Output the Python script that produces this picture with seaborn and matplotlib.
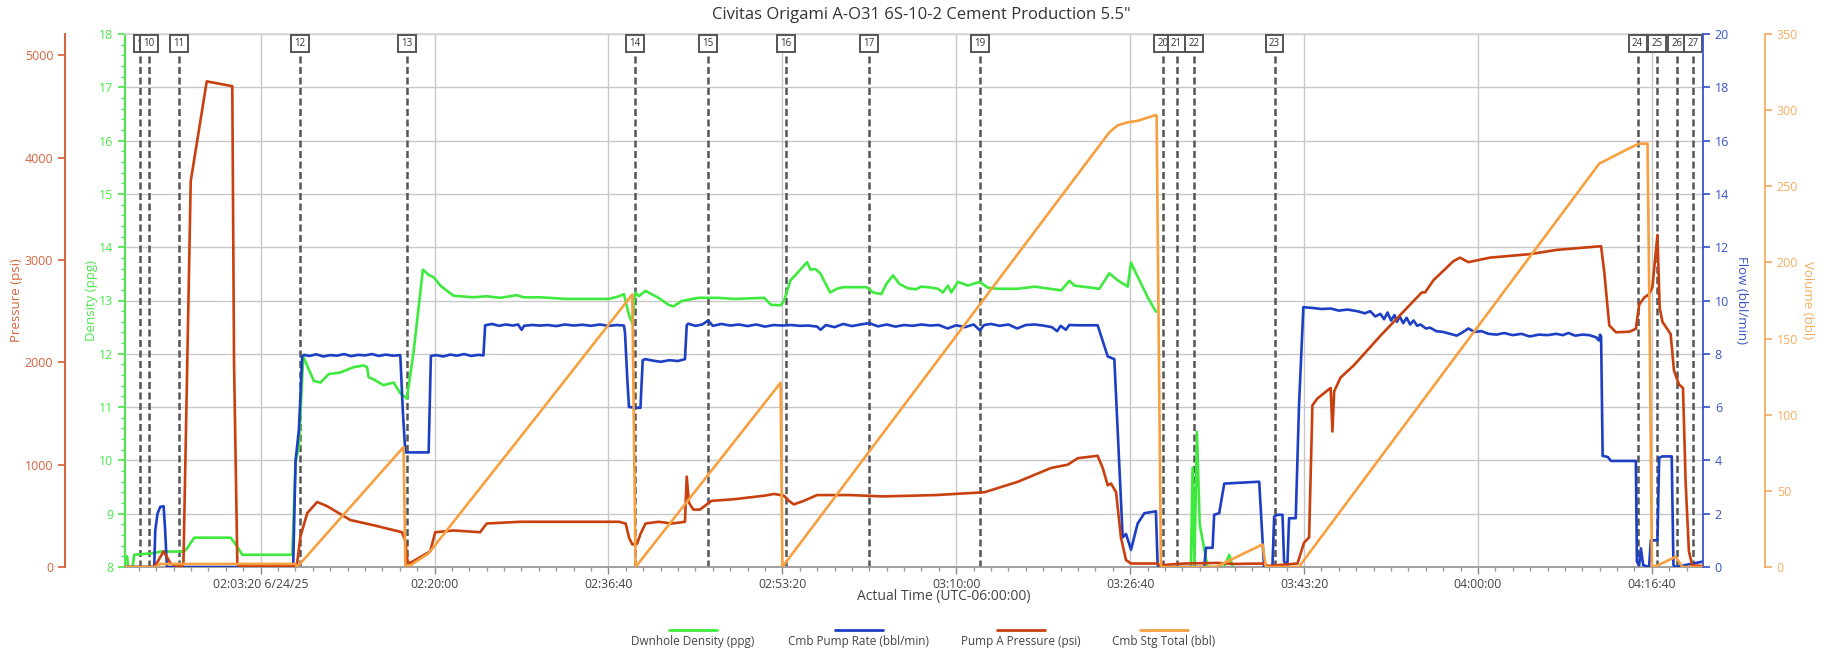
import pandas as pd
import seaborn as sns
import matplotlib.pyplot as plt
from matplotlib.lines import Line2D
from matplotlib.ticker import FuncFormatter, MultipleLocator

# all times are seconds after 02:00:00 on 6/24/25
dens_t = [-580, -568, -562, -536, -527, -412, -374, -240, -221, -182, 28, 57, 95, 382, 401, 420, 445,
          506, 544, 592, 659, 735, 793, 812, 821, 850, 907, 927, 965, 1003, 1041, 1080, 1133, 1166,
          1194, 1233, 1309, 1424, 1500, 1577, 1672, 1711, 1806, 1957, 2204, 2261, 2289, 2318, 2337,
          2350, 2356, 2375, 2413, 2488, 2545, 2574, 2621, 2716, 2830, 2925, 3096, 3134, 3191, 3209,
          3247, 3304, 3342, 3361, 3390, 3418, 3475, 3513, 3551, 3684, 3722, 3769, 3798, 3836, 3874,
          3921, 3969, 3997, 4037, 4095, 4123, 4152, 4171, 4210, 4267, 4334, 4382, 4439, 4554, 4650,
          4803, 4851, 4879, 5023, 5080, 5128, 5186, 5205, 5234, 5301, 5348]
dens_v = [8.2, 8.2, 8.0, 8.0, 8.23, 8.26, 8.29, 8.29, 8.36, 8.55, 8.55, 8.42, 8.23, 8.23, 10.0, 10.25, 11.95,
          11.49, 11.46, 11.62, 11.65, 11.75, 11.78, 11.75, 11.56, 11.52, 11.41, 11.43, 11.46, 11.26, 11.16, 12.05, 13.58, 13.48,
          13.44, 13.28, 13.09, 13.06, 13.08, 13.05, 13.10, 13.06, 13.06, 13.03, 13.03, 13.08, 13.12, 12.73, 12.57,
          13.07, 13.15, 13.08, 13.18, 13.05, 12.92, 12.89, 12.99, 13.05, 13.05, 13.03, 13.05, 12.92, 12.91, 12.99,
          13.38, 13.58, 13.72, 13.58, 13.59, 13.51, 13.15, 13.22, 13.25, 13.25, 13.15, 13.12, 13.31, 13.47, 13.31,
          13.23, 13.21, 13.26, 13.25, 13.22, 13.15, 13.28, 13.15, 13.35, 13.28, 13.35, 13.24, 13.22, 13.22, 13.26,
          13.19, 13.37, 13.28, 13.22, 13.51, 13.38, 13.26, 13.71, 13.51, 13.06, 12.79]
dens2_t = [5549, 5559, 5569, 5584, 5600, 5645, 5741, 5770, 5789]
dens2_v = [8.0, 9.86, 8.0, 10.54, 8.8, 8.0, 8.0, 8.23, 8.0]

flow_t = [-580, -412, -406, -393, -377, -358, -349, -339, 387, 401, 420, 439, 449,
          480, 520, 560, 600, 640, 680, 720, 760, 800, 840, 880, 920, 960, 1003, 1018, 1032, 1166, 1179,
          1210, 1250, 1290, 1330, 1370, 1410, 1450, 1481, 1491,
          1530, 1570, 1610, 1650, 1680, 1701, 1715, 1760, 1806, 1850, 1900, 1950, 2000, 2050, 2100, 2150,
          2200, 2250, 2289, 2295, 2308, 2318, 2384, 2397, 2413, 2450, 2500, 2550, 2600, 2640, 2650, 2659,
          2700, 2740, 2773, 2800, 2850, 2900, 2950, 3000, 3050, 3100, 3150, 3200, 3250, 3300, 3350, 3400,
          3420, 3450, 3500, 3550, 3600, 3650, 3700, 3750, 3800, 3850, 3900, 3950, 4000, 4050, 4100, 4150,
          4200, 4250, 4300, 4336, 4360, 4400, 4450, 4500, 4550, 4600, 4650, 4700, 4750, 4780, 4800, 4830,
          4850, 4900, 4950, 5013, 5071, 5109, 5128, 5157, 5176, 5205, 5243, 5282, 5348, 5358, 5368, 5626,
          5636, 5674, 5683, 5712, 5741, 5942, 5970, 6018, 6028, 6047, 6076, 6085, 6104, 6114, 6152, 6171,
          6196, 6250, 6300, 6353, 6400, 6450, 6505, 6550, 6580, 6610, 6639, 6660, 6680, 6700, 6720, 6734,
          6750, 6770, 6790, 6810, 6830, 6850, 6870, 6900, 6925, 6960, 7000, 7040, 7078, 7110, 7145, 7180,
          7220, 7260, 7307, 7350, 7400, 7450, 7497, 7550, 7600, 7650, 7688, 7720, 7760, 7800, 7840, 7879,
          7895, 7902, 7908, 7917, 7946, 7965, 8108, 8114, 8127, 8137, 8150, 8184, 8194, 8232, 8242, 8261,
          8314, 8324, 8337, 8490]
flow_v = [0, 0, 1.37, 2.0, 2.26, 2.28, 1.37, 0, 0, 4.0, 5.15, 7.9, 7.96,
          7.92, 7.98, 7.9, 7.95, 7.93, 7.99, 7.91, 7.96, 7.94, 7.99, 7.92, 7.97, 7.93, 7.95, 5.8, 4.3, 4.3, 7.92,
          7.95, 7.9, 7.97, 7.93, 7.99, 7.92, 7.96, 7.94, 9.07,
          9.12, 9.05, 9.1, 9.06, 9.1, 8.9, 9.05, 9.08, 9.06, 9.08, 9.04, 9.1, 9.06, 9.09, 9.05, 9.1,
          9.05, 9.08, 9.06, 8.8, 7.1, 6.0, 5.97, 7.76, 7.8, 7.75, 7.7, 7.76, 7.73, 7.8, 9.07, 9.13,
          9.05, 9.1, 9.25, 9.05, 9.12, 9.06, 9.1, 9.04, 9.1, 9.02, 9.08, 9.06, 9.08, 9.05, 9.06, 9.02,
          8.9, 9.08, 9.0, 9.12, 9.04, 9.1, 9.15, 9.03, 9.1, 9.02, 9.08, 9.05, 9.1, 9.06, 9.08, 8.95,
          9.07, 9.0, 9.1, 8.88, 9.08, 9.12, 9.05, 9.1, 8.95, 9.08, 9.1, 9.06, 9.0, 8.85, 9.05, 8.9,
          9.08, 9.07, 9.07, 9.07, 7.9, 7.8, 5.15, 1.11, 1.24, 0.65, 1.63, 2.02, 2.09, 0.07, 0, 0,
          0.72, 0.72, 1.96, 2.02, 3.13, 3.2, 0, 0, 1.89, 1.96, 1.96, 0.2, 0.07, 1.83, 1.83, 6.07,
          9.75, 9.72, 9.68, 9.7, 9.62, 9.66, 9.6, 9.52, 9.6, 9.4, 9.5, 9.3, 9.55, 9.25, 9.45, 9.2,
          9.4, 9.15, 9.35, 9.1, 9.25, 9.05, 9.1, 8.95, 8.98, 8.85, 8.82, 8.75, 8.68, 8.8, 8.95, 8.82,
          8.85, 8.75, 8.72, 8.78, 8.7, 8.75, 8.65, 8.72, 8.7, 8.75, 8.7, 8.78, 8.68, 8.72, 8.7, 8.62,
          8.5, 8.72, 8.65, 4.17, 4.13, 3.98, 3.98, 0.2, 0.07, 0.7, 0.07, 0, 1.0, 1.0, 4.1, 4.15,
          4.15, 0.07, 0, 0.2]

press_t = [-580, -412, -393, -358, -316, -278, -249, -244, -202, -110, 37, 47, 66, 76, 401, 410, 429, 468,
           525, 582, 716, 850, 1013, 1032, 1045, 1060, 1175, 1204, 1309, 1462, 1500, 1691, 2261, 2299,
           2318, 2337, 2365, 2384, 2413, 2488, 2564, 2640, 2650, 2663, 2688, 2726, 2792, 2925, 3096,
           3153, 3209, 3238, 3266, 3323, 3399, 3589, 3779, 4082, 4363, 4554, 4745, 4841, 4899, 5013,
           5042, 5071, 5090, 5119, 5147, 5176, 5205, 5358, 5368, 5511, 5700, 5800, 5970, 5990, 6162,
           6200, 6229, 6248, 6277, 6353, 6363, 6373, 6410, 6486, 6639, 6791, 6877, 6896, 6944, 7059,
           7097, 7145, 7269, 7497, 7650, 7908, 7927, 7955, 7994, 8070, 8108, 8127, 8156, 8184, 8203,
           8232, 8245, 8261, 8308, 8327, 8356, 8379, 8394, 8413, 8432, 8490]
press_v = [0, 0, 50, 153, 30, 10, 10, 30, 3772, 4747, 4700, 2000, 30, 10, 10, 40, 300, 527,
           635, 595, 459, 408, 340, 255, 50, 40, 153, 340, 357, 340, 425, 442, 442, 425,
           289, 221, 228, 323, 425, 442, 425, 442, 884, 629, 561, 561, 646, 663, 697,
           714, 697, 646, 612, 646, 703, 703, 690, 703, 731, 833, 968, 1000, 1064, 1087,
           968, 799, 816, 731, 289, 68, 34, 34, 17, 34, 40, 30, 34, 10, 34,
           238, 289, 1580, 1648, 1750, 1325, 1716, 1852, 1971, 2260, 2531, 2684, 2684, 2803, 2990,
           3024, 2980, 3024, 3058, 3099, 3136, 2871, 2362, 2294, 2300, 2328, 2565, 2633, 2667, 2735,
           3245, 2531, 2396, 2277, 1920, 1784, 1750, 833, 153, 17, 10]

vol_t = [-580, -400, -380, 400, 410, 1022, 1032, 1060, 1166, 1806, 2337, 2356, 3190, 3200, 5080, 5128,
         5186, 5243, 5348, 5352, 5377, 5693, 5961, 5980, 6170, 7898, 7917, 8070, 8127, 8175, 8188, 8200,
         8232, 8318, 8337, 8356, 8375, 8490]
vol_v = [0, 0, 2, 2, 0, 78.8, 1, 1, 9, 101.6, 179, 0, 121, 0, 285.4, 290,
         292, 293, 296.8, 296, 0, 0, 14.8, 0, 0, 265, 266, 275, 278, 278, 150, 0,
         1, 5.7, 6.8, 3.4, 0, 0]

event_t = [-492, -442, -270, 424, 1039, 2354, 2773, 3221, 3699, 4336, 5391, 5467, 5565, 6030,
           8118, 8228, 8343, 8438]
event_lbl = ['9', '10', '11', '12', '13', '14', '15', '16', '17', '19', '20', '21', '22', '23',
             '24', '25', '26', '27']
time_ticks = [200, 1200, 2200, 3200, 4200, 5200, 6200, 7200, 8200]

GREEN = '#3FEA3F'
BLUE = '#1D3FC4'
RED = '#C9400F'
ORANGE = '#F7A03F'

sns.set_theme(style='white')
plt.rcParams['font.family'] = ['Open Sans', 'DejaVu Sans']

W, H = 1828, 653
fig = plt.figure(figsize=(W / 100, H / 100), dpi=100)
ax = fig.add_subplot(111)
fig.subplots_adjust(left=125 / W, right=1703 / W, top=1 - 34 / H, bottom=1 - 567 / H)
ax_f = ax.twinx()
ax_p = ax.twinx()
ax_v = ax.twinx()

lw = 1.9
sns.lineplot(x=dens_t, y=dens_v, ax=ax, color=GREEN, lw=lw, estimator=None, sort=False)
sns.lineplot(x=dens2_t, y=dens2_v, ax=ax, color=GREEN, lw=lw, estimator=None, sort=False)
sns.lineplot(x=flow_t, y=flow_v, ax=ax_f, color=BLUE, lw=lw, estimator=None, sort=False)
sns.lineplot(x=press_t, y=press_v, ax=ax_p, color=RED, lw=lw, estimator=None, sort=False)
sns.lineplot(x=vol_t, y=vol_v, ax=ax_v, color=ORANGE, lw=lw, estimator=None, sort=False)

# event markers
for t, lbl in zip(event_t, event_lbl):
    ax.axvline(t, ymin=0, ymax=0.962, color='#555555', lw=1.8, ls=(0, (2.8, 1.4)), zorder=1)
    ax.text(t, 0.982, lbl, transform=ax.get_xaxis_transform(), ha='center', va='center',
            fontsize=7, color='#333333', clip_on=False, zorder=5,
            bbox=dict(boxstyle='square,pad=0.35', fc='white', ec='#555555', lw=1.4))

# x axis
ax.set_xlim(-580, 8494)
ax.set_xticks(time_ticks)
ax.xaxis.set_minor_locator(MultipleLocator(100))


def fmt_time(t, pos):
    s = int(round(t)) + 7200
    lab = f'{s // 3600:02d}:{s % 3600 // 60:02d}:{s % 60:02d}'
    return lab + ' 6/24/25' if t == time_ticks[0] else lab


ax.xaxis.set_major_formatter(FuncFormatter(fmt_time))
ax.tick_params(axis='x', which='major', direction='out', length=5, width=1, color='#888888',
               labelsize=8.8, labelcolor='#444444', pad=3, bottom=True)
ax.tick_params(axis='x', which='minor', direction='out', length=3, width=1, color='#999999', bottom=True)
ax.set_xlabel('Actual Time (UTC-06:00:00)', fontsize=10, color='#444444')
ax.xaxis.label.set_va('center')
ax.xaxis.set_label_coords((944 - 125) / 1578, -0.055)
ax.grid(True, which='major', color='#c8c8c8', lw=1)

# density axis (host)
ax.set_ylim(8, 18)
ax.set_yticks(range(8, 19))
ax.yaxis.set_minor_locator(MultipleLocator(0.2))
ax.tick_params(axis='y', which='both', direction='out', color='#4CE64C', labelcolor='#4CE64C',
               labelsize=9, left=True)
ax.tick_params(axis='y', which='major', length=5)
ax.tick_params(axis='y', which='minor', length=3)
ax.set_ylabel('Density (ppg)', fontsize=9.5, color='#4CE64C')
ax.yaxis.set_label_coords((92 - 125) / 1578, 0.5)
ax.yaxis.label.set_va('center')

for name, sp in ax.spines.items():
    sp.set_visible(name in ('left', 'bottom', 'top'))
ax.spines['left'].set_color('#4CE64C')
ax.spines['left'].set_linewidth(1.5)
ax.spines['bottom'].set_color('#999999')
ax.spines['bottom'].set_linewidth(1.3)
ax.spines['top'].set_color('#d5d5d5')

# pressure axis (outer left)
ax_p.set_ylim(0, 5210)
ax_p.set_yticks(range(0, 6000, 1000))
ax_p.yaxis.tick_left()
ax_p.yaxis.set_label_position('left')
for name, sp in ax_p.spines.items():
    sp.set_visible(name == 'left')
ax_p.spines['left'].set_position(('axes', (65 - 125) / 1578))
ax_p.spines['left'].set_color('#D4633F')
ax_p.spines['left'].set_linewidth(1.5)
ax_p.tick_params(axis='y', direction='out', length=5, color='#D4633F', labelcolor='#D4633F', labelsize=9)
ax_p.set_ylabel('Pressure (psi)', fontsize=9.5, color='#D4633F')
ax_p.yaxis.set_label_coords((17 - 125) / 1578, 0.5)
ax_p.yaxis.label.set_va('center')

# flow axis (right)
ax_f.set_ylim(0, 20)
ax_f.set_yticks(range(0, 21, 2))
for name, sp in ax_f.spines.items():
    sp.set_visible(name == 'right')
ax_f.spines['right'].set_color('#3A55C8')
ax_f.spines['right'].set_linewidth(1.3)
ax_f.tick_params(axis='y', direction='out', length=5, color='#3A55C8', labelcolor='#3A55C8', labelsize=9)
ax_f.set_ylabel('Flow (bbl/min)', fontsize=9.5, color='#3A55C8', rotation=270)
ax_f.yaxis.set_label_coords((1742 - 125) / 1578, 0.5)
ax_f.yaxis.label.set_va('center')

# volume axis (outer right)
ax_v.set_ylim(0, 350)
ax_v.set_yticks(range(0, 351, 50))
for name, sp in ax_v.spines.items():
    sp.set_visible(name == 'right')
ax_v.spines['right'].set_position(('axes', (1765 - 125) / 1578))
ax_v.spines['right'].set_color('#F5AE62')
ax_v.spines['right'].set_linewidth(1.3)
ax_v.tick_params(axis='y', direction='out', length=5, color='#F5AE62', labelcolor='#F5AE62', labelsize=9)
ax_v.set_ylabel('Volume (bbl)', fontsize=9.5, color='#F5AE62', rotation=270)
ax_v.yaxis.set_label_coords((1808 - 125) / 1578, 0.5)
ax_v.yaxis.label.set_va('center')

for a in (ax_f, ax_p, ax_v):
    a.set_xlim(-580, 8494)
    a.grid(False)

fig.text(921 / W, 1 - 15 / H, 'Civitas Origami A-O31 6S-10-2 Cement Production 5.5"',
         ha='center', va='center', fontsize=12, color='#333333')

# legend: line above each name
leg_names = ['Dwnhole Density (ppg)', 'Cmb Pump Rate (bbl/min)', 'Pump A Pressure (psi)', 'Cmb Stg Total (bbl)']
leg_cols = [GREEN, BLUE, RED, ORANGE]
leg_x = [693, 859, 1021, 1164]
for cx, name, c in zip(leg_x, leg_names, leg_cols):
    fig.add_artist(Line2D([(cx - 24) / W, (cx + 24) / W], [1 - 630 / H] * 2, color=c, lw=2))
    fig.text(cx / W, 1 - 642 / H, name, ha='center', va='center', fontsize=8.5, color='#444444')

fig.savefig('out.png', dpi=100)
